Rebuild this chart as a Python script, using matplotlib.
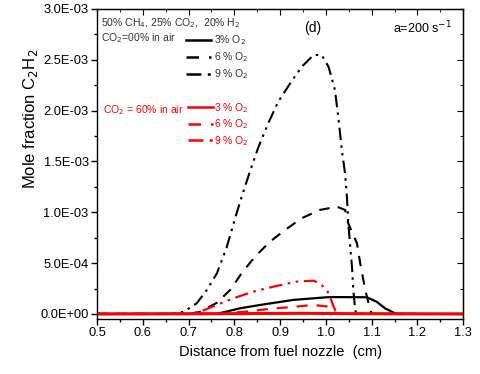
import matplotlib
matplotlib.use('Agg')
import matplotlib.pyplot as plt
import matplotlib.lines as mlines
from matplotlib.ticker import MultipleLocator, FuncFormatter

plt.rcParams['font.family'] = ['Liberation Sans', 'DejaVu Sans']

# CO2 = 00% in air
x_b3 = [0.50, 0.76, 0.78, 0.813, 0.856, 0.929, 1.002, 1.017, 1.089, 1.111, 1.129, 1.148, 1.155, 1.30]
y_b3 = [0.0, 0.0, 0.02e-3, 0.056e-3, 0.088e-3, 0.138e-3, 0.164e-3, 0.166e-3, 0.164e-3, 0.12e-3, 0.056e-3, 0.013e-3, 0.0, 0.0]

x_b6 = [0.50, 0.70, 0.725, 0.762, 0.791, 0.816, 0.845, 0.878, 0.911, 0.947, 0.987, 1.024, 1.042,
        1.049, 1.068, 1.075, 1.086, 1.097, 1.10, 1.20]
y_b6 = [0.0, 0.0, 0.02e-3, 0.11e-3, 0.236e-3, 0.40e-3, 0.563e-3, 0.711e-3, 0.826e-3, 0.941e-3,
        1.023e-3, 1.055e-3, 1.023e-3, 0.89e-3, 0.695e-3, 0.50e-3, 0.236e-3, 0.04e-3, 0.0, 0.0]

x_b9 = [0.50, 0.66, 0.689, 0.718, 0.740, 0.762, 0.783, 0.805, 0.816, 0.834, 0.853, 0.874, 0.896,
        0.922, 0.947, 0.973, 0.991, 1.006, 1.020, 1.027, 1.035, 1.042, 1.046, 1.049, 1.057, 1.060,
        1.064, 1.067, 1.20]
y_b9 = [0.0, 0.0, 0.02e-3, 0.105e-3, 0.236e-3, 0.40e-3, 0.65e-3, 0.99e-3, 1.15e-3, 1.40e-3, 1.645e-3,
        1.875e-3, 2.088e-3, 2.268e-3, 2.43e-3, 2.547e-3, 2.547e-3, 2.43e-3, 2.2e-3, 1.94e-3, 1.61e-3,
        1.38e-3, 1.15e-3, 0.89e-3, 0.465e-3, 0.236e-3, 0.04e-3, 0.0, 0.0]

# CO2 = 60% in air
x_r3 = [0.50, 0.80, 0.95, 1.05, 1.30]
y_r3 = [0.0, 0.003e-3, 0.006e-3, 0.003e-3, 0.0]

x_r6 = [0.50, 0.75, 0.82, 0.878, 0.929, 0.973, 1.009, 1.020, 1.030, 1.20]
y_r6 = [0.0, 0.0, 0.02e-3, 0.05e-3, 0.07e-3, 0.088e-3, 0.07e-3, 0.01e-3, 0.0, 0.0]

x_r9 = [0.50, 0.70, 0.725, 0.754, 0.798, 0.842, 0.885, 0.936, 0.973, 0.987, 1.002, 1.009, 1.017,
        1.025, 1.20]
y_r9 = [0.0, 0.0, 0.02e-3, 0.075e-3, 0.154e-3, 0.22e-3, 0.268e-3, 0.318e-3, 0.327e-3, 0.30e-3,
        0.236e-3, 0.17e-3, 0.07e-3, 0.0, 0.0]

DASH = (5, 4)
DASHDOTDOT = (6, 2.5, 1.2, 2.5, 1.2, 2.5)
GREY = '#333333'

fig = plt.figure(figsize=(4.8, 3.74), dpi=100)
ax = fig.add_axes([0.202, 0.147, 0.763, 0.829])

ax.plot(x_b9, y_b9, color='black', lw=1.5, dashes=DASHDOTDOT)
ax.plot(x_b6, y_b6, color='black', lw=1.5, dashes=DASH)
ax.plot(x_r9, y_r9, color='red', lw=1.6, dashes=DASHDOTDOT)
ax.plot(x_r6, y_r6, color='red', lw=1.6, dashes=DASH)
ax.plot(x_b3, y_b3, color='black', lw=1.6)
ax.plot(x_r3, y_r3, color='red', lw=2.2)

ax.set_xlim(0.5, 1.3)
ax.set_ylim(-0.05e-3, 3.0e-3)
ax.xaxis.set_major_locator(MultipleLocator(0.1))
ax.xaxis.set_minor_locator(MultipleLocator(0.05))
ax.yaxis.set_major_locator(MultipleLocator(0.5e-3))
ax.yaxis.set_minor_locator(MultipleLocator(0.25e-3))
ax.yaxis.set_major_formatter(FuncFormatter(lambda v, p: f"{v:.1E}"))
ax.xaxis.set_major_formatter(FuncFormatter(lambda v, p: f"{v:.1f}"))
ax.tick_params(which='major', direction='out', length=4, width=1, labelsize=9.3, pad=2)
ax.tick_params(which='minor', direction='out', length=2, width=1)
for s in ax.spines.values():
    s.set_linewidth(1.0)

top = ax.secondary_xaxis('top')
top.xaxis.set_major_locator(MultipleLocator(0.1))
top.xaxis.set_minor_locator(MultipleLocator(0.05))
top.tick_params(which='major', direction='in', length=4, labeltop=False)
top.tick_params(which='minor', direction='in', length=2)
right = ax.secondary_yaxis('right')
right.yaxis.set_major_locator(MultipleLocator(0.5e-3))
right.yaxis.set_minor_locator(MultipleLocator(0.25e-3))
right.tick_params(which='major', direction='in', length=4, labelright=False)
right.tick_params(which='minor', direction='in', length=2)

ax.set_xlabel("Distance from fuel nozzle  (cm)", fontsize=10.5, labelpad=4)
ax.set_ylabel("Mole fraction C$_2$H$_2$", fontsize=12)
ax.yaxis.set_label_coords(-0.155, 0.645)

ax.text(0.01, 0.975, "50% CH$_4$, 25% CO$_2$,  20% H$_2$", transform=ax.transAxes,
        fontsize=7.5, va='top', ha='left', color=GREY)
ax.text(0.01, 0.905, "CO$_2$=00% in air", transform=ax.transAxes,
        fontsize=7.5, va='center', ha='left', color=GREY)
ax.text(0.235, 0.673, "CO$_2$ = 60% in air", transform=ax.transAxes,
        fontsize=7.5, va='center', ha='right', color='red')
ax.text(0.59, 0.94, "(d)", transform=ax.transAxes, fontsize=10, va='center', ha='center')
ax.text(0.97, 0.94, "a=200 s$^{-1}$", transform=ax.transAxes, fontsize=9, va='center', ha='right')

blk = [mlines.Line2D([], [], color='black', lw=1.8),
       mlines.Line2D([], [], color='black', lw=1.8, dashes=DASH),
       mlines.Line2D([], [], color='black', lw=1.8, dashes=DASHDOTDOT)]
leg1 = ax.legend(blk, ["3% O$_2$", "6 % O$_2$", "9 % O$_2$"], loc='upper left',
                 bbox_to_anchor=(0.243, 0.922), frameon=False, fontsize=7.5,
                 handlelength=2.4, handletextpad=0.3, labelspacing=0.33,
                 borderaxespad=0, borderpad=0)
for t in leg1.get_texts():
    t.set_color(GREY)
ax.add_artist(leg1)

red = [mlines.Line2D([], [], color='red', lw=1.8),
       mlines.Line2D([], [], color='red', lw=1.8, dashes=DASH),
       mlines.Line2D([], [], color='red', lw=1.8, dashes=DASHDOTDOT)]
leg2 = ax.legend(red, ["3 % O$_2$", "6 % O$_2$", "9 % O$_2$"], loc='upper left',
                 bbox_to_anchor=(0.249, 0.703), frameon=False, fontsize=7.5,
                 handlelength=2.4, handletextpad=0.1, labelspacing=0.25,
                 borderaxespad=0, borderpad=0)
for t in leg2.get_texts():
    t.set_color('red')

fig.savefig('out.png', dpi=100)
